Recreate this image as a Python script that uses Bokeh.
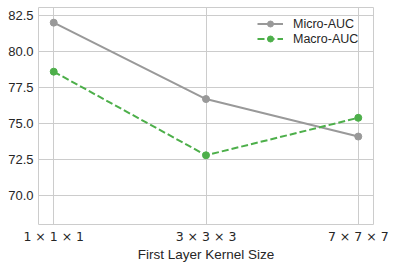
from bokeh.plotting import figure
from bokeh.models import Legend, LegendItem, FixedTicker
from bokeh.embed import file_html
from bokeh.resources import INLINE

kernel_labels = ["1 × 1 × 1", "3 × 3 × 3", "7 × 7 × 7"]
kernel_pos = [0, 1, 2]
micro_auc = [82.0, 76.7, 74.1]
macro_auc = [78.6, 72.8, 75.4]
x_title = "First Layer Kernel Size"

GRAY = "#999999"
GREEN = "#4daf4a"
TXT = "#262626"
GRID = "#cccccc"

p = figure(width=395, height=267, output_backend="svg", toolbar_location=None,
           x_range=(-0.1, 2.1), y_range=(68.0, 83.05),
           min_border_left=38, min_border_right=22, min_border_top=7, min_border_bottom=43)

l1 = p.line(kernel_pos, micro_auc, line_color=GRAY, line_width=2)
s1 = p.scatter(kernel_pos, micro_auc, size=7, fill_color=GRAY, line_color=GRAY)
l2 = p.line(kernel_pos, macro_auc, line_color=GREEN, line_width=2, line_dash="7 3")
s2 = p.scatter(kernel_pos, macro_auc, size=7, fill_color=GREEN, line_color=GREEN)

legend = Legend(items=[LegendItem(label="Micro-AUC", renderers=[l1, s1]),
                       LegendItem(label="Macro-AUC", renderers=[l2, s2])],
                location="top_right", margin=9, padding=0, spacing=0,
                label_height=15, glyph_height=15, glyph_width=26, label_standoff=10,
                label_width=71, label_text_font="Liberation Sans", label_text_font_size="12.5px",
                label_text_color=TXT, background_fill_alpha=0, border_line_alpha=0)
p.add_layout(legend)

p.xaxis.ticker = FixedTicker(ticks=kernel_pos)
p.xaxis.major_label_overrides = {k: v for k, v in zip(kernel_pos, kernel_labels)}
p.yaxis.ticker = FixedTicker(ticks=[70.0, 72.5, 75.0, 77.5, 80.0, 82.5])
p.yaxis.major_label_overrides = {70.0: "70.0", 72.5: "72.5", 75.0: "75.0", 77.5: "77.5", 80.0: "80.0", 82.5: "82.5"}
p.xaxis.axis_label = x_title

for ax in [p.xaxis[0], p.yaxis[0]]:
    ax.axis_line_color = None
    ax.major_tick_line_color = None
    ax.minor_tick_line_color = None
    ax.major_tick_out = 0
    ax.major_tick_in = 0
    ax.minor_tick_out = 0
    ax.minor_tick_in = 0
    ax.major_label_text_color = TXT
    ax.major_label_text_font_size = "13px"
    ax.major_label_text_font = "Liberation Sans"
p.yaxis.major_label_standoff = 5
p.xaxis.major_label_standoff = 4
p.xaxis.major_label_text_font = "DejaVu Sans"
p.xaxis.major_label_text_font_size = "12.5px"
p.xaxis.axis_label_text_font = "Liberation Sans"
p.xaxis.axis_label_text_font_size = "13.5px"
p.xaxis.axis_label_text_font_style = "normal"
p.xaxis.axis_label_text_color = TXT
p.xaxis.axis_label_standoff = 0

p.grid.grid_line_color = GRID
p.grid.grid_line_width = 1
p.outline_line_color = GRID
p.outline_line_width = 1
p.background_fill_color = "white"
p.border_fill_color = "white"

open("out.html", "w").write(file_html(p, INLINE))
